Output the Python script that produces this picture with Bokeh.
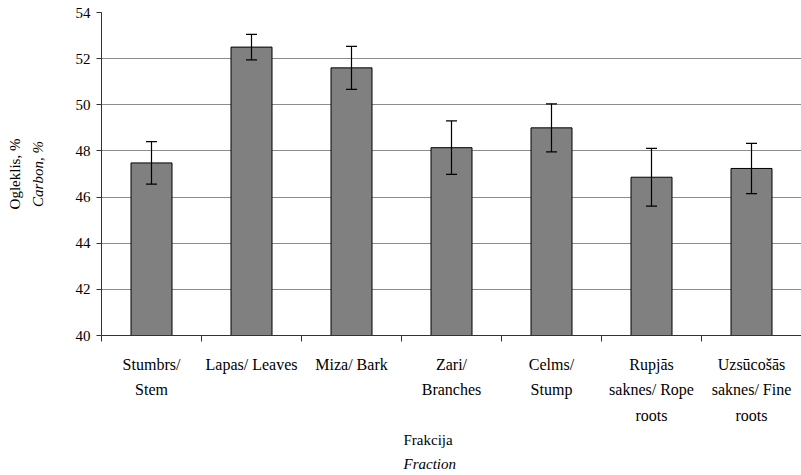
from bokeh.plotting import figure
from bokeh.models import (ColumnDataSource, Whisker, TeeHead, FixedTicker,
                          LinearAxis, Title, Range1d)
from bokeh.embed import file_html
from bokeh.resources import INLINE

categories = ["Stumbrs/\nStem", "Lapas/ Leaves", "Miza/ Bark", "Zari/\nBranches",
              "Celms/\nStump", "Rupjās\nsaknes/ Rope\nroots", "Uzsūcošās\nsaknes/ Fine\nroots"]
carbon = [47.48, 52.50, 51.60, 48.14, 49.00, 46.86, 47.24]
error = [0.92, 0.55, 0.93, 1.16, 1.04, 1.25, 1.09]
y_ticks = [40, 42, 44, 46, 48, 50, 52, 54]

FONT = "Liberation Serif"

xs = [i + 0.5 for i in range(len(categories))]
src = ColumnDataSource(dict(
    x=xs, top=carbon,
    upper=[c + e for c, e in zip(carbon, error)],
    lower=[c - e for c, e in zip(carbon, error)],
))

p = figure(width=801, height=475, output_backend="svg", toolbar_location=None,
           x_range=Range1d(0, len(categories)), y_range=Range1d(40, 54),
           min_border_left=101, min_border_right=0, min_border_top=12,
           min_border_bottom=140)
p.outline_line_color = None
p.background_fill_color = "white"

p.vbar(x="x", top="top", bottom=40, width=0.41, source=src,
       fill_color="#808080", line_color="black", line_width=1)

w = Whisker(base="x", upper="upper", lower="lower", source=src,
            line_color="black", line_width=1.2,
            upper_head=TeeHead(size=11, line_color="black", line_width=1.2),
            lower_head=TeeHead(size=11, line_color="black", line_width=1.2))
w.level = "overlay"
p.add_layout(w)

# x axis: ticks at category boundaries (minor ticks), labels at centers
xa = p.xaxis[0]
xa.ticker = FixedTicker(ticks=xs, minor_ticks=list(range(len(categories) + 1)))
xa.major_label_overrides = {x: c for x, c in zip(xs, categories)}
xa.major_tick_out = 0
xa.major_tick_in = 0
xa.minor_tick_out = 6
xa.minor_tick_in = 0
xa.minor_tick_line_color = "#333333"
xa.axis_line_color = "#333333"
xa.major_label_standoff = 14
xa.major_label_text_font = FONT
xa.major_label_text_font_size = "16px"
xa.major_label_text_color = "black"
xa.major_label_text_line_height = 1.5

ya = p.yaxis[0]
ya.ticker = FixedTicker(ticks=y_ticks)
ya.minor_tick_line_color = None
ya.major_tick_out = 5
ya.major_tick_in = 0
ya.major_tick_line_color = "#333333"
ya.axis_line_color = "#333333"
ya.major_label_standoff = 6
ya.major_label_text_font = FONT
ya.major_label_text_font_size = "15px"
ya.major_label_text_color = "black"
ya.axis_label = "Carbon, %"
ya.axis_label_text_font = FONT
ya.axis_label_text_font_style = "italic"
ya.axis_label_text_font_size = "15px"
ya.axis_label_text_color = "black"
ya.axis_label_standoff = 27

ya2 = LinearAxis(ticker=FixedTicker(ticks=[]), axis_line_color=None,
                 major_tick_line_color=None, minor_tick_line_color=None,
                 major_tick_out=0, major_label_standoff=0,
                 major_label_text_font_size="0px",
                 axis_label="Ogleklis, %", axis_label_text_font=FONT,
                 axis_label_text_font_style="normal",
                 axis_label_text_font_size="15px", axis_label_text_color="black",
                 axis_label_standoff=4)
p.add_layout(ya2, "left")

p.xgrid.grid_line_color = None
p.ygrid.ticker = FixedTicker(ticks=y_ticks)
p.ygrid.grid_line_color = "#8c8c8c"
p.ygrid.grid_line_width = 1

t1 = Title(text="Frakcija", align="left", offset=302, text_font=FONT,
           text_font_size="15px", text_font_style="normal", text_color="black",
           standoff=6)
t2 = Title(text="Fraction", align="left", offset=302, text_font=FONT,
           text_font_size="15px", text_font_style="italic", text_color="black",
           standoff=6)
p.add_layout(t1, "below")
p.add_layout(t2, "below")

open("out.html", "w").write(file_html(p, INLINE))
